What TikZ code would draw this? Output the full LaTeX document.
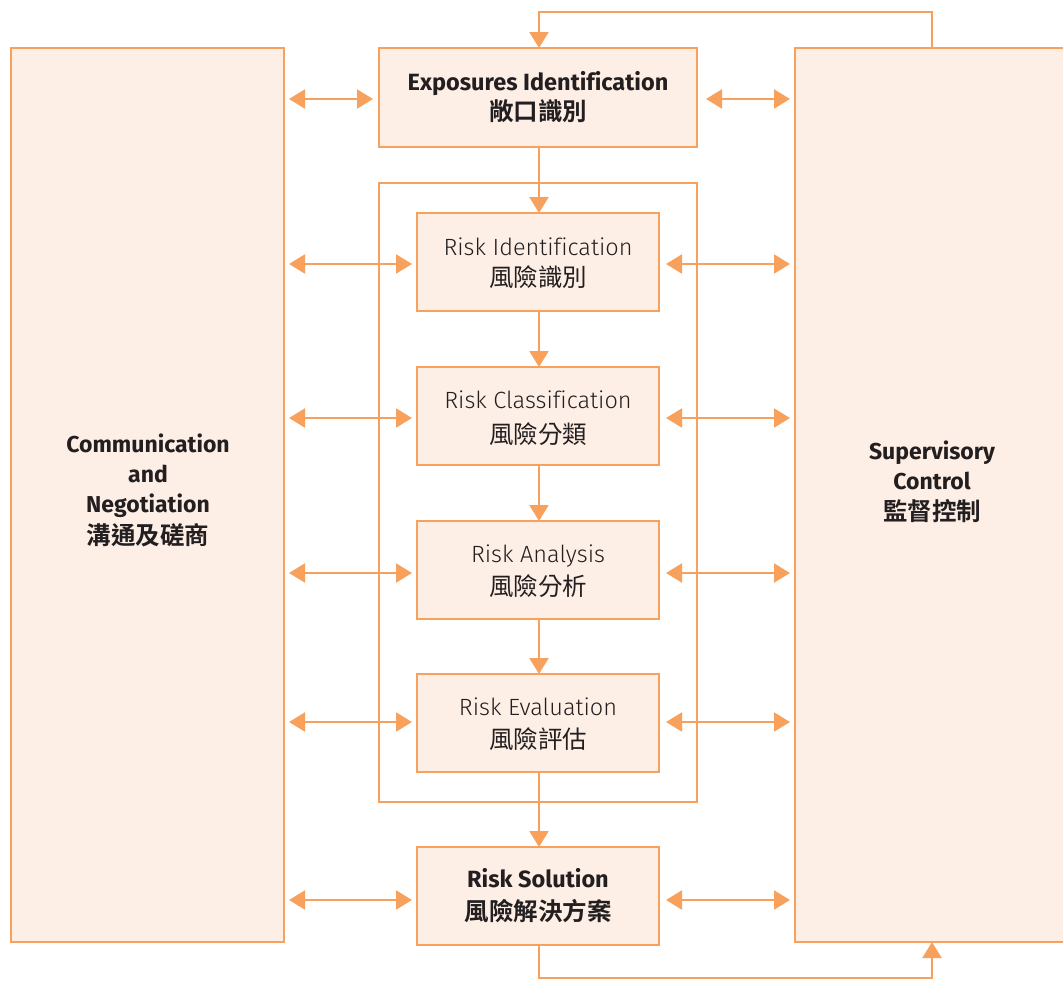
\documentclass[tikz,border=0pt]{standalone}
\usepackage{fontspec}
\setmainfont{Fira Sans}[Ligatures=CommonOff]
\newfontfamily\lightfont{Fira Sans Light}[Ligatures=CommonOff]
\newfontfamily\cjkb{Noto Sans CJK TC Bold}
\newfontfamily\cjk{Noto Sans CJK TC}
\usetikzlibrary{arrows.meta}
\definecolor{oline}{HTML}{F8A15C}
\definecolor{ofill}{HTML}{FEEFE6}
\definecolor{txt}{HTML}{231F20}
\tikzset{
  box/.style={draw=oline, fill=ofill, line width=2.2pt, inner sep=0pt},
  frame/.style={draw=oline, line width=2.2pt},
  conn/.style={draw=oline, line width=2.2pt, -{Triangle[length=16pt,width=19pt]}},
  dconn/.style={draw=oline, line width=2.2pt, {Triangle[length=16pt,width=19pt]}-{Triangle[length=16pt,width=19pt]}},
  lbl/.style={align=center, text=txt, font=\fontsize{23.5}{33}\selectfont},
  sidelbl/.style={align=center, text=txt, font=\fontsize{23}{30}\selectfont},
}
\newcommand{\cj}[1]{{\cjk\fontsize{24.5}{33}\selectfont #1}}
\newcommand{\cjB}[1]{{\cjkb\fontsize{24.5}{33}\selectfont #1}}
\begin{document}
\begin{tikzpicture}[x=1pt,y=-1pt]
\useasboundingbox (0,0) rectangle (1063,980);
% big side boxes
\path[box] (11,48) rectangle (284,942);
\path[box] (795,48) rectangle (1075,942);
\node[sidelbl] (cn) at (148,490) {\bfseries Communication\\ \bfseries and\\ \bfseries Negotiation\\[2pt] \cjB{溝通及磋商}};
\node[sidelbl] (sc) at (932,482) {\bfseries Supervisory\\ \bfseries Control\\[1pt] \cjB{監督控制}};
% group frame
\path[frame] (379,183) rectangle (697,802);
% exposures
\path[box] (379,48) rectangle (697,147);
\node[lbl] (ex) at (538,97.5) {\bfseries Exposures Identification\\[-3pt] \cjB{敞口識別}};
\coordinate (exT) at (539,48);
\coordinate (exB) at (539,147);
% inner boxes
\path[box] (417,213) rectangle (659,311);
\node[lbl] (ri) at (538,263) {\lightfont Risk Identification\\[-2pt] \cj{風險識別}};
\path[box] (417,367) rectangle (659,465);
\node[lbl] (rc) at (538,418) {\lightfont Risk Classification\\[2pt] \cj{風險分類}};
\path[box] (417,521) rectangle (659,619);
\node[lbl] (ra) at (538,571) {\lightfont Risk Analysis\\ \cj{風險分析}};
\path[box] (417,674) rectangle (659,772);
\node[lbl] (re) at (538,724) {\lightfont Risk Evaluation\\ \cj{風險評估}};
\path[box] (417,847) rectangle (659,945);
\node[lbl] (rs) at (538,896) {\bfseries Risk Solution\\ \cjB{風險解決方案}};
% coordinates
\coordinate (frT) at (539,183);
\coordinate (riT) at (539,213);
\coordinate (riB) at (539,311);
\coordinate (rcT) at (539,367);
\coordinate (rcB) at (539,465);
\coordinate (raT) at (539,521);
\coordinate (raB) at (539,619);
\coordinate (reT) at (539,674);
\coordinate (reB) at (539,772);
\coordinate (rsT) at (539,847);
\coordinate (rsB) at (539,945);
\coordinate (scT) at (932,48);
\coordinate (scB) at (932,942);
% vertical flow
\draw[frame] (exB) -- (frT);
\draw[conn] (frT) -- (riT);
\draw[conn] (riB) -- (rcT);
\draw[conn] (rcB) -- (raT);
\draw[conn] (raB) -- (reT);
\draw[conn] (reB) -- (rsT);
% loops
\draw[conn] (scT) -- (932,12) -| (exT);
\draw[conn] (rsB) -- (539,978) -| (scB);
% double arrows
\draw[dconn] (289,99) -- (373,99);
\draw[dconn] (706,99) -- (790,99);
\foreach \y in {264,418,573,722,900}{
  \draw[dconn] (289,\y) -- (412,\y);
  \draw[dconn] (666,\y) -- (790,\y);
}
\end{tikzpicture}
\end{document}
